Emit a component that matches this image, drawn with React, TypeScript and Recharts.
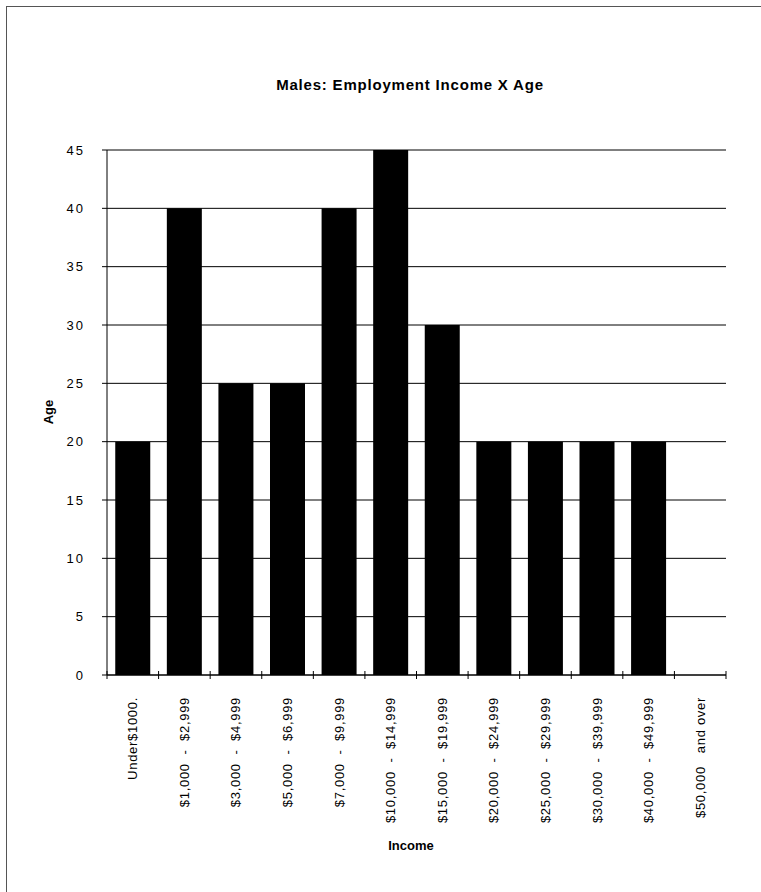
import React from 'react';
import { BarChart, Bar, XAxis, YAxis, CartesianGrid } from 'recharts';

const incomeBrackets = [
  'Under$1000.',
  '$1,000  -  $2,999',
  '$3,000  -  $4,999',
  '$5,000  -  $6,999',
  '$7,000  -  $9,999',
  '$10,000  -  $14,999',
  '$15,000  -  $19,999',
  '$20,000  -  $24,999',
  '$25,000  -  $29,999',
  '$30,000  -  $39,999',
  '$40,000  -  $49,999',
  '$50,000   and over',
];

const ageValues: (number | null)[] = [20, 40, 25, 25, 40, 45, 30, 20, 20, 20, 20, null];

const ageTicks = [0, 5, 10, 15, 20, 25, 30, 35, 40, 45];

const W = 761;
const H = 892;
const margin = { top: 150, right: 35, left: 0, bottom: 0 };
const yAxisWidth = 107;
const xAxisHeight = 217;
const font = 'Arial, "Liberation Sans", Helvetica, sans-serif';

const data = incomeBrackets.map((bracket, i) => ({ bracket, age: ageValues[i] }));

const step = (W - margin.left - margin.right - yAxisWidth) / incomeBrackets.length;

const IncomeTick = (props: any) => {
  const { x, y, payload, index } = props;
  return (
    <g>
      <line x1={x - step / 2} x2={x - step / 2} y1={y - 4} y2={y + 4} stroke="#000" />
      {index === incomeBrackets.length - 1 && (
        <line x1={x + step / 2} x2={x + step / 2} y1={y - 4} y2={y + 4} stroke="#000" />
      )}
      <g transform={`translate(${x},${y + 22})`}>
        <text
          transform="rotate(-90)"
          textAnchor="end"
          dominantBaseline="central"
          fontFamily={font}
          fontSize={13}
          letterSpacing={0.7}
          fill="#000"
          style={{ whiteSpace: 'pre' }}
        >
          {payload.value}
        </text>
      </g>
    </g>
  );
};

const App: React.FC = () => {
  return (
    <div style={{ position: 'absolute', left: 0, top: 0, width: W, height: H, background: '#fff' }}>
      <div style={{ position: 'absolute', left: 6, top: 6, width: W - 6, height: 0, borderTop: '1px solid #555' }} />
      <div style={{ position: 'absolute', left: 6, top: 6, width: 0, height: H - 6, borderLeft: '1px solid #555' }} />
      <BarChart width={W} height={H} data={data} margin={margin} barCategoryGap="16%">
        <CartesianGrid vertical={false} stroke="#000" strokeDasharray="" />
        <XAxis
          dataKey="bracket"
          height={xAxisHeight}
          interval={0}
          axisLine={{ stroke: '#000' }}
          tickLine={false}
          tickSize={0}
          tickMargin={0}
          tick={<IncomeTick />}
        />
        <YAxis
          width={yAxisWidth}
          domain={[0, 45]}
          ticks={ageTicks}
          interval={0}
          axisLine={{ stroke: '#000' }}
          tickLine={{ stroke: '#000' }}
          tickSize={5}
          tickMargin={17}
          tick={{ fill: '#000', fontSize: 13, fontFamily: font, letterSpacing: 2 }}
        />
        <Bar dataKey="age" fill="#000" isAnimationActive={false} />
      </BarChart>
      <div
        style={{
          position: 'absolute',
          left: 0,
          width: 820,
          top: 76,
          textAlign: 'center',
          fontFamily: font,
          fontWeight: 'bold',
          fontSize: 15,
          letterSpacing: 0.8,
          color: '#000',
        }}
      >
        Males: Employment Income X Age
      </div>
      <div
        style={{
          position: 'absolute',
          left: 48,
          top: 412,
          transform: 'translate(-50%, -50%) rotate(-90deg)',
          fontFamily: font,
          fontWeight: 'bold',
          fontSize: 13,
          color: '#000',
        }}
      >
        Age
      </div>
      <div
        style={{
          position: 'absolute',
          left: 411,
          top: 845,
          transform: 'translate(-50%, -50%)',
          fontFamily: font,
          fontWeight: 'bold',
          fontSize: 13,
          color: '#000',
        }}
      >
        Income
      </div>
    </div>
  );
};

export default App;
